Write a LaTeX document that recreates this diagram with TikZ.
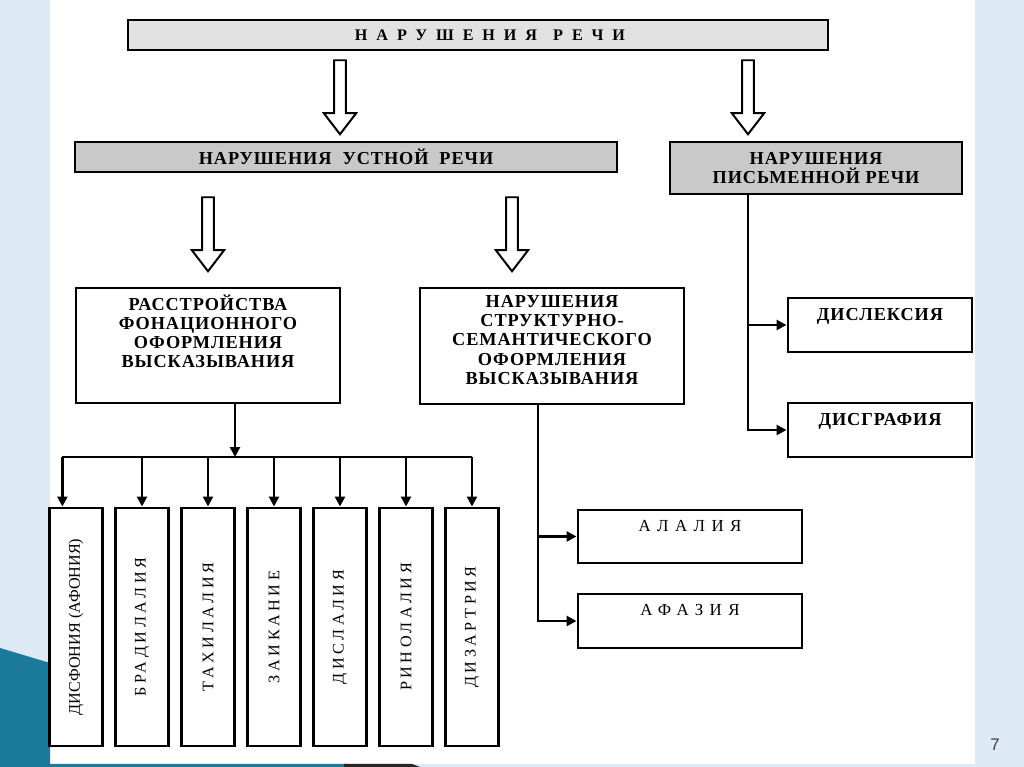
\documentclass[tikz,border=0pt]{standalone}
\usepackage{fontspec}
\setmainfont{Liberation Serif}
\newfontfamily\pagefont{Liberation Sans}
\usetikzlibrary{arrows.meta,positioning,shapes.arrows,calc}

\definecolor{slidebg}{HTML}{DDE9F5}
\definecolor{slideteal}{HTML}{1B7A9A}
\definecolor{headgrey}{HTML}{E2E2E2}
\definecolor{subgrey}{HTML}{C9C9C9}

\tikzset{
  box/.style={draw,line width=2.1pt,fill=white,inner sep=0pt},
  hollow/.style={single arrow,draw,line width=1.4pt,fill=white,rotate=-90,minimum width=.78cm,
    minimum height=1.85cm,inner sep=.12cm,single arrow head extend=.26cm,single arrow tip angle=75},
  boldtxt/.style={align=center,inner sep=0pt,
    font={\fontsize{13}{13.6}\selectfont\bfseries\addfontfeatures{LetterSpace=5}}},
  widetxt/.style={inner sep=0pt,font={\fontsize{12}{12}\selectfont\addfontfeatures{LetterSpace=38}}},
  uptxt/.style={font={\fontsize{11.5}{12}\selectfont\addfontfeatures{LetterSpace=22}}},
  link/.style={line width=2.1pt,->},
}

\begin{document}
\begin{tikzpicture}[>={Triangle[length=7pt,width=7pt]}]
% slide background
\fill[slidebg] (0,0) rectangle (25.6,19.175);
\fill[white] (1.25,.075) rectangle (24.375,19.175);
\fill[slideteal] (0,2.975) -- (1.25,2.6) -- (1.25,.075) -- (8.7,.075) -- (9,0) -- (0,0) -- cycle;
\fill[black!85] (8.6,.075) -- (10.3,.075) -- (10.5,0) -- (8.6,0) -- cycle;
\node[font=\pagefont\fontsize{12}{12}\selectfont,text=black!75] (page) at (24.875,.55) {7};

% top levels
\node[box,fill=headgrey,minimum width=17.5cm,minimum height=.75cm,
  font={\fontsize{11.5}{12}\selectfont\bfseries\addfontfeatures{LetterSpace=55}}] (all) at (11.95,18.3)
  {\hspace{.6cm}НАРУШЕНИЯ\quad РЕЧИ};
\node[hollow] (h1) at (8.5,16.8375) {};
\node[hollow] (h2) at (18.7,16.8375) {};
\node[box,fill=subgrey,minimum width=13.55cm,minimum height=.75cm] (oral) at (8.65,15.25) {};
\node[boldtxt] (oraltxt) at (oral) {НАРУШЕНИЯ\ \ УСТНОЙ\ \ РЕЧИ};
\node[box,fill=subgrey,minimum width=7.3cm,minimum height=1.3cm] (writ) at (20.4,14.975) {};
\node[boldtxt] (writtxt) at (writ) {НАРУШЕНИЯ\\ПИСЬМЕННОЙ РЕЧИ};
\node[hollow] (h3) at (5.2,13.4125) {};
\node[hollow] (h4) at (12.8,13.4125) {};

% third level
\node[box,minimum width=6.6cm,minimum height=2.875cm] (fon) at (5.2,10.5375) {};
\node[boldtxt,below=.2cm of fon.north] (fontxt) {РАССТРОЙСТВА\\ФОНАЦИОННОГО\\ОФОРМЛЕНИЯ\\ВЫСКАЗЫВАНИЯ};
\node[box,minimum width=6.6cm,minimum height=2.9cm] (sem) at (13.8,10.525) {};
\node[boldtxt,below=.22cm of sem.north] (semtxt) {НАРУШЕНИЯ\\СТРУКТУРНО-\\СЕМАНТИЧЕСКОГО\\ОФОРМЛЕНИЯ\\ВЫСКАЗЫВАНИЯ};

% the seven narrow boxes
\node[box,minimum width=1.325cm,minimum height=5.95cm,font=\fontsize{11.5}{12}\selectfont] (v1) at (1.9,3.5)
  {\rotatebox{90}{ДИСФОНИЯ (АФОНИЯ)}};
\foreach \i/\lab in {2/БРАДИЛАЛИЯ,3/ТАХИЛАЛИЯ,4/ЗАИКАНИЕ,5/ДИСЛАЛИЯ,6/РИНОЛАЛИЯ,7/ДИЗАРТРИЯ}{
  \node[box,uptxt,minimum width=1.325cm,minimum height=5.95cm] (v\i) at ({1.9+1.65*(\i-1)},3.5) {\rotatebox{90}{\lab}};
}
\coordinate (bus) at (5.875,7.75);
\coordinate (v1in) at ($(v1.north)+(-.34,0)$);
\draw[link] (fon.south -| bus) -- (bus);
\draw[line width=2.1pt] (v1in |- bus) -- (v7.north |- bus);
\draw[link] (v1in |- bus) -- (v1in);
\foreach \i in {2,...,7}{
  \draw[link] (v\i.north |- bus) -- (v\i.north);
}

% right branches
\node[box,minimum width=5.6cm,minimum height=1.325cm] (ala) at (17.25,5.7625) {};
\node[widetxt,below=.28cm of ala.north] (alatxt) {АЛАЛИЯ};
\node[box,minimum width=5.6cm,minimum height=1.35cm] (afa) at (17.25,3.65) {};
\node[widetxt,below=.28cm of afa.north] (afatxt) {АФАЗИЯ};
\coordinate (strunk) at ($(sem.south)+(-.35,0)$);
\draw[link] (strunk) |- (afa.west);
\draw[link] (strunk |- ala.west) -- (ala.west);

\node[box,minimum width=4.6cm,minimum height=1.35cm] (lex) at (22,11.05) {};
\node[boldtxt,below=.28cm of lex.north] (lextxt) {ДИСЛЕКСИЯ};
\node[box,minimum width=4.6cm,minimum height=1.35cm] (gra) at (22,8.425) {};
\node[boldtxt,below=.28cm of gra.north] (gratxt) {ДИСГРАФИЯ};
\coordinate (wtrunk) at ($(writ.south)+(-1.7,0)$);
\draw[link] (wtrunk) |- (gra.west);
\draw[link] (wtrunk |- lex.west) -- (lex.west);
\end{tikzpicture}
\end{document}
